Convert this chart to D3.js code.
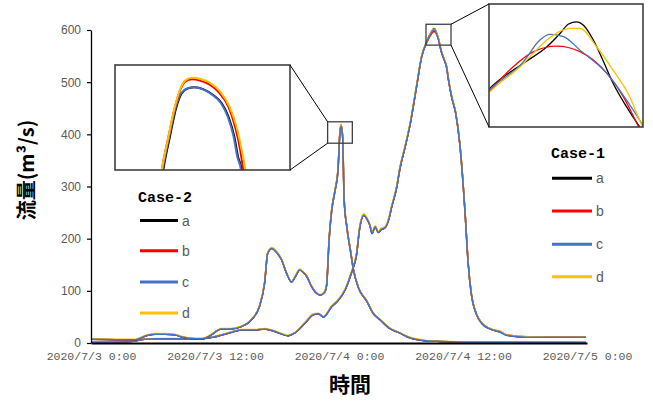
<!DOCTYPE html>
<html><head><meta charset="utf-8">
<script src="https://cdn.jsdelivr.net/npm/d3@7"></script>
<style>
html,body{margin:0;padding:0;background:#fff;}
svg{display:block;}
</style></head>
<body>
<svg id="chart" width="653" height="401"></svg>
<script>
// ---------------- DATA ----------------
const xTickHours = [0, 12, 24, 36, 48];
const xTickLabels = ["2020/7/3 0:00", "2020/7/3 12:00", "2020/7/4 0:00", "2020/7/4 12:00", "2020/7/5 0:00"];
const yTicks = [0, 100, 200, 300, 400, 500, 600];
const seriesNames = ["a", "b", "c", "d"];
const seriesColors = ["#000000", "#FF0000", "#4472C4", "#FFC000"];

// Case-2 (hours from 2020/7/3 0:00)
const case2Hours = [0,4.2,5.5,6.2,7.2,8.1,8.7,10.1,10.8,11.6,12.6,13.5,14.5,15.5,16.3,16.8,17.1,17.5,17.9,18.45,18.9,19.4,19.8,20.2,20.5,20.9,21.3,21.7,22.2,22.6,22.8,23.05,23.3,23.6,23.9,24.08,24.2,24.35,24.5,24.75,25.1,25.4,25.9,26.7,27.3,28.0,28.9,29.9,30.6,32.1,33.8,37.6,47.9];
const case2A = [7,6,15,17,17,16,12,8,8,15,27,27,31,44,70,115,172,181,175,159,135,117,128,140,136,127,110,98,92,97,110,200,255,290,330,400,416,395,274,223,178,140,105,80,57,44,28,19,12,5,3,1.5,1];
const case2B = [7,6,15,17,17,16,12,8,8,15,27,27,31,44,70,115,172,182,176,159,135,117,129,141,136,127,110,98,92,98,112,202,257,292,332,403,419,398,276,224,179,140,105,80,57,44,28,19,12,5,3,1.5,1];
const case2C = [7,6,15,17,17,16,12,8,8,15,27,27,31,44,70,115,172,181,175,159,135,117,128,140,136,127,110,98,92,97,110,200,255,290,330,400,416,395,274,223,178,140,105,80,57,44,28,19,12,5,3,1.5,1];
const case2D = [8,7,16,18,18,17,13,9,9,16,28,28,32,45,72,117,174,183,177,160,136,118,130,142,137,128,111,99,93,99,112,202,257,292,332,403,419,399,277,225,180,141,106,81,58,45,29,20,13,6,3.5,2,1.5];

// Case-1
const case1Hours = [0,3.9,5.2,6.2,9.4,10.6,12.0,13.5,14.5,15.8,16.8,17.8,19.1,19.7,20.7,21.5,22.0,22.5,23.3,23.8,24.6,25.2,25.7,26.0,26.4,26.7,27.0,27.2,27.5,27.8,28.1,28.4,28.8,29.1,29.6,29.9,30.4,30.9,31.5,32.0,32.5,32.8,33.2,33.6,33.9,34.2,34.4,34.6,34.9,35.3,35.7,36.2,36.5,36.8,37.3,37.8,38.6,39.6,40.2,42.2,47.9];
const case1A = [1.5,3,7,8,8,8,12,20,25,25,27,22,14,19,38,54,56,50,70,79,102,134,170,220,245,238,225,210,223,212,218,220,236,261,300,335,376,421,491,549,578,591,603,585,558,542,530,504,472,440,380,250,153,95,55,38,27,21,15,11,11];
const case1B = [1.5,3,7,8,8,8,12,20,25,25,27,22,14,19,38,54,56,50,70,79,102,134,170,220,245,238,225,210,223,212,218,220,236,261,300,335,376,421,491,549,576,588,597,584,560,542,530,504,472,440,380,250,153,95,56,39,28,22,16,12,12];
const case1C = [1.5,3,7,8,8,8,12,20,25,25,27,22,14,19,38,54,56,50,70,79,102,134,170,220,245,238,225,210,223,212,218,220,236,261,300,335,376,421,491,549,578,590,600,583,559,542,530,504,472,440,380,250,153,95,55,38,27,21,15,11,11];
const case1D = [2,3.5,7.5,8.5,8.5,8.5,13,21,26,26,28,23,15,20,40,56,57,51,72,81,104,136,173,223,248,240,227,212,225,214,220,222,239,264,303,338,379,424,494,551,579,592,602,586,561,544,532,506,474,442,382,252,155,96,56,39,28,22,16,12,11.5];

// zoom boxes (data units)
const zoomLeftHours = [22.9, 25.29];
const zoomLeftFlow = [383, 424];
const zoomRightHours = [32.42, 34.84];
const zoomRightFlow = [571, 611];

// left inset (Case-2 peak detail) [hour, flow]
const insetLA = [[23.52,375],[23.56,383],[23.65,396],[23.74,407.7],[23.81,412.9],[23.90,414.9],[23.99,415.3],[24.11,414.5],[24.24,412.3],[24.36,409],[24.45,403.8],[24.53,396],[24.58,388.2],[24.63,383],[24.66,375]];
const insetLB = [[23.50,375],[23.54,383],[23.63,396],[23.72,407.7],[23.79,414.2],[23.86,417.5],[23.95,418.4],[24.06,417.9],[24.20,416.2],[24.33,412.9],[24.45,407.7],[24.54,399.9],[24.61,390.8],[24.65,383],[24.68,375]];
const insetLC = [[23.51,375],[23.55,383],[23.64,396],[23.73,407.7],[23.80,412.9],[23.89,414.9],[23.98,415.3],[24.10,414.5],[24.23,412.3],[24.35,409],[24.44,403.8],[24.52,396],[24.57,388.2],[24.62,383],[24.65,375]];
const insetLD = [[23.50,375],[23.54,383],[23.63,396],[23.72,408],[23.79,414.6],[23.86,418],[23.95,419],[24.06,418.6],[24.20,417],[24.33,413.8],[24.46,408],[24.56,399.9],[24.63,390.8],[24.68,383],[24.71,375]];

// right inset (Case-1 peak detail) [hour, flow]
const insetRA = [[32.30,580.5],[32.42,583.3],[32.96,591.7],[33.33,597.1],[33.54,601.5],[33.67,604.5],[33.80,605.2],[33.90,604.2],[34.06,599.3],[34.22,592.2],[34.37,585.2],[34.58,577.6],[34.78,571.3],[34.90,568]];
const insetRB = [[32.30,580],[32.42,582.5],[32.80,590.6],[33.12,595.5],[33.48,597.3],[33.85,595.5],[34.27,588.5],[34.53,580.9],[34.77,571.1],[34.90,566]];
const insetRC = [[32.30,580.5],[32.42,583],[32.96,592.2],[33.22,599.3],[33.38,601.1],[33.59,600.4],[33.85,596],[34.27,588.5],[34.58,579.8],[34.82,572.2],[34.90,569.5]];
const insetRD = [[32.30,579.5],[32.42,582.2],[32.91,590.6],[33.33,599.3],[33.54,602.2],[33.69,603.1],[33.85,603.1],[34.11,597.1],[34.37,589.5],[34.63,580.9],[34.82,571.7],[34.90,569]];

// ---------------- CHART ----------------
const svg = d3.select("#chart");
const x = d3.scaleLinear().domain([0, 48]).range([91, 587]);
const y = d3.scaleLinear().domain([0, 600]).range([343, 30]);

const mono = "'Liberation Mono','DejaVu Sans Mono',monospace";
const sans = "'Liberation Sans',Arial,sans-serif";
const cjk = "'Noto Sans CJK JP','Noto Sans CJK SC',sans-serif";

// lines main
const line = d3.line().x(d => x(d[0])).y(d => y(d[1])).curve(d3.curveMonotoneX);
const zip = (hrs, vals) => hrs.map((h, i) => [h, vals[i]]);
const case1 = [case1A, case1B, case1C, case1D];
const case2 = [case2A, case2B, case2C, case2D];
const drawOrder = [0, 1, 3, 2];
const gLines = svg.append("g");
drawOrder.forEach(i => {
  gLines.append("path").attr("d", line(zip(case1Hours, case1[i])))
    .attr("fill", "none").attr("stroke", seriesColors[i]).attr("stroke-width", 1.5).attr("stroke-linejoin", "round");
});
drawOrder.forEach(i => {
  gLines.append("path").attr("d", line(zip(case2Hours, case2[i])))
    .attr("fill", "none").attr("stroke", seriesColors[i]).attr("stroke-width", 1.5).attr("stroke-linejoin", "round");
});

// axes
const yAxis = d3.axisLeft(y).tickValues(yTicks).tickSizeInner(4).tickSizeOuter(0).tickPadding(6);
const gy = svg.append("g").attr("transform", `translate(${x(0)},0)`).call(yAxis);
gy.select(".domain").attr("stroke", "#000").attr("stroke-width", 1.3);
gy.selectAll(".tick line").attr("stroke", "#000").attr("stroke-width", 1.2);
gy.selectAll(".tick text").attr("font-family", sans).attr("font-size", 12).attr("fill", "#595959");

const xAxis = d3.axisBottom(x).tickValues(xTickHours).tickFormat((d, i) => xTickLabels[i]).tickSizeInner(0).tickSizeOuter(0).tickPadding(9);
const gx = svg.append("g").attr("transform", `translate(0,${y(0)})`).call(xAxis);
gx.select(".domain").attr("stroke", "#000").attr("stroke-width", 1.8);
gx.selectAll(".tick text").attr("font-family", mono).attr("font-size", 11.5).attr("fill", "#595959");

// axis titles
svg.append("text").attr("transform", "translate(34,170) rotate(-90)").attr("text-anchor", "middle")
  .attr("font-family", cjk).attr("font-weight", 700).attr("font-size", 20).attr("fill", "#000").text("流量(m³/s)");
svg.append("text").attr("x", 350).attr("y", 392).attr("text-anchor", "middle")
  .attr("font-family", cjk).attr("font-weight", 700).attr("font-size", 21).attr("fill", "#000").text("時間");

// legends
function legend(title, tx, ty, lx0, lx1, ys) {
  svg.append("text").attr("x", tx).attr("y", ty).attr("font-family", mono).attr("font-weight", 700)
    .attr("font-size", 15).attr("fill", "#000").text(title);
  seriesNames.forEach((n, i) => {
    svg.append("line").attr("x1", lx0).attr("x2", lx1).attr("y1", ys[i]).attr("y2", ys[i])
      .attr("stroke", seriesColors[i]).attr("stroke-width", 3);
    svg.append("text").attr("x", lx1 + 4).attr("y", ys[i] + 5).attr("font-family", sans)
      .attr("font-size", 14).attr("fill", "#595959").text(n);
  });
}
legend("Case-1", 551, 158, 552, 592, [178.3, 211, 244.3, 276.7]);
legend("Case-2", 138, 202, 140, 178, [220.5, 250.7, 282, 313]);

// insets
function inset(id, rect, hDom, vDom, series, sw) {
  const [rx0, ry0, rx1, ry1] = rect;
  // zoom box
  const bx0 = x(hDom[0]), bx1 = x(hDom[1]), by0 = y(vDom[1]), by1 = y(vDom[0]);
  svg.append("rect").attr("x", bx0).attr("y", by0).attr("width", bx1 - bx0).attr("height", by1 - by0)
    .attr("fill", "none").attr("stroke", "#404040").attr("stroke-width", 1.3);
  const ix = d3.scaleLinear().domain(hDom).range([rx0, rx1]);
  const iy = d3.scaleLinear().domain(vDom).range([ry1, ry0]);
  svg.append("rect").attr("x", rx0).attr("y", ry0).attr("width", rx1 - rx0).attr("height", ry1 - ry0).attr("fill", "#fff");
  svg.append("clipPath").attr("id", id).append("rect").attr("x", rx0).attr("y", ry0).attr("width", rx1 - rx0).attr("height", ry1 - ry0);
  const il = d3.line().x(d => ix(d[0])).y(d => iy(d[1])).curve(d3.curveMonotoneX);
  const g = svg.append("g").attr("clip-path", `url(#${id})`);
  series.forEach(s => {
    g.append("path").attr("d", il(s.data)).attr("fill", "none").attr("stroke", s.color).attr("stroke-width", sw);
  });
  svg.append("rect").attr("x", rx0).attr("y", ry0).attr("width", rx1 - rx0).attr("height", ry1 - ry0)
    .attr("fill", "none").attr("stroke", "#404040").attr("stroke-width", 1.6);
  return {bx0, bx1, by0, by1};
}
const L = inset("clipL", [115, 65, 290, 170], zoomLeftHours, zoomLeftFlow, [
  {data: insetLA, color: seriesColors[0]}, {data: insetLC, color: seriesColors[2]},
  {data: insetLB, color: seriesColors[1]}, {data: insetLD, color: seriesColors[3]}], 2);
svg.append("line").attr("x1", 290).attr("y1", 65).attr("x2", L.bx0).attr("y2", L.by0).attr("stroke", "#000").attr("stroke-width", 1);
svg.append("line").attr("x1", 290).attr("y1", 170).attr("x2", L.bx0).attr("y2", L.by1).attr("stroke", "#000").attr("stroke-width", 1);

const R = inset("clipR", [489, 4, 643, 127], zoomRightHours, zoomRightFlow, [
  {data: insetRA, color: seriesColors[0]}, {data: insetRB, color: seriesColors[1]},
  {data: insetRC, color: seriesColors[2]}, {data: insetRD, color: seriesColors[3]}], 1.3);
svg.append("line").attr("x1", R.bx1).attr("y1", R.by0).attr("x2", 489).attr("y2", 4).attr("stroke", "#000").attr("stroke-width", 1);
svg.append("line").attr("x1", R.bx1).attr("y1", R.by1).attr("x2", 489).attr("y2", 127).attr("stroke", "#000").attr("stroke-width", 1);
</script>
</body></html>
